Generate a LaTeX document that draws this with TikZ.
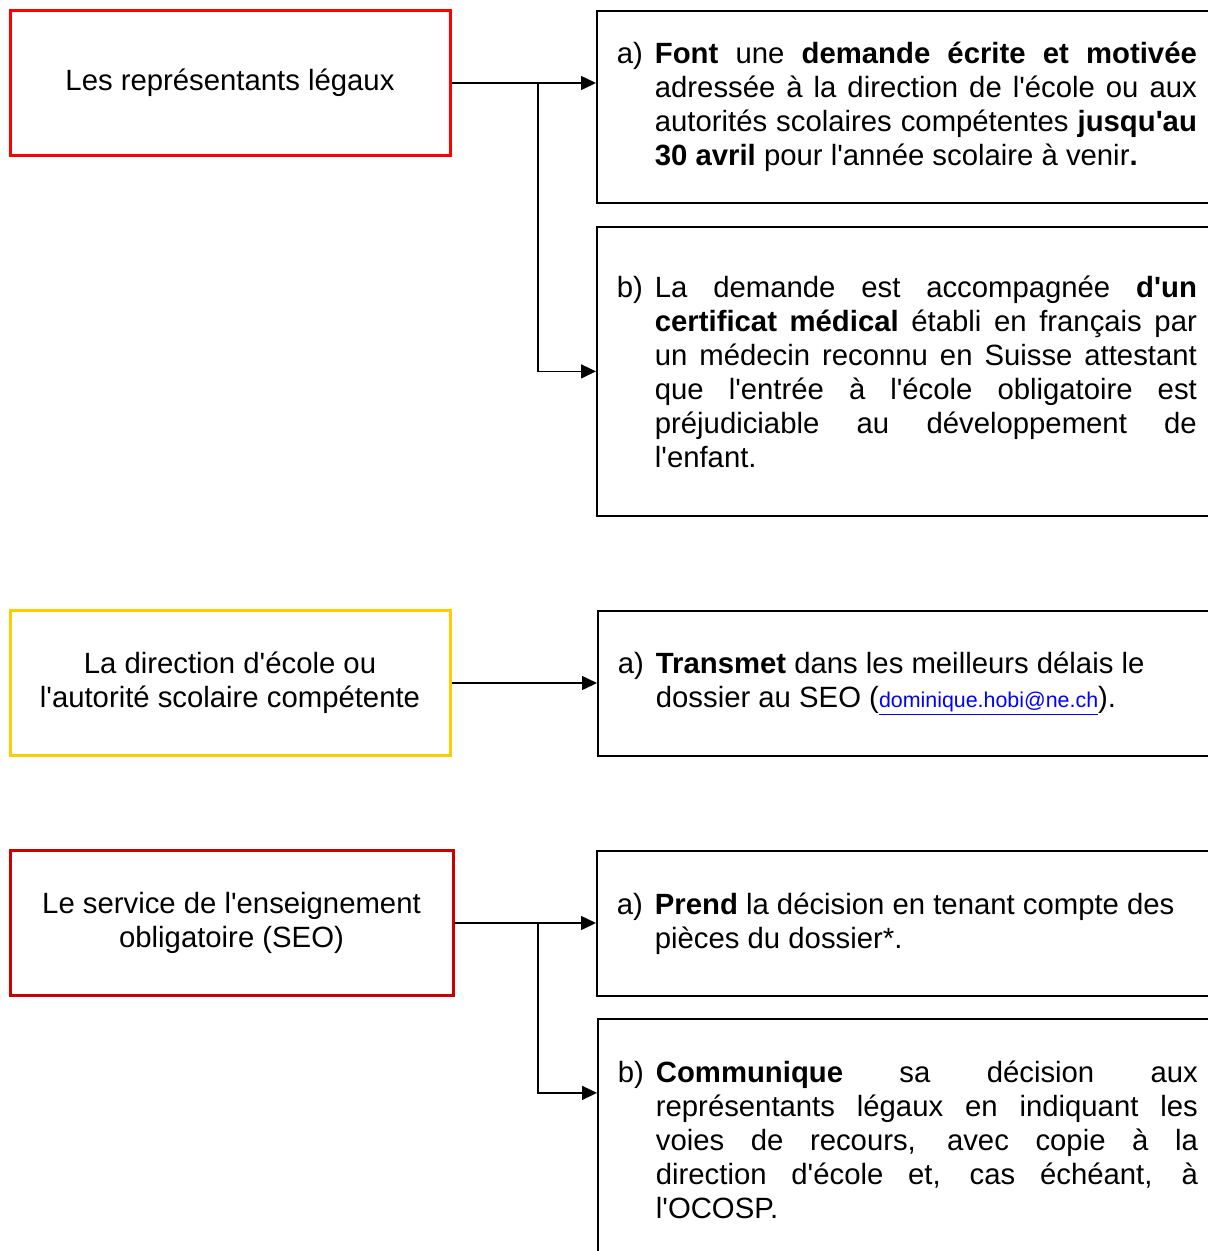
\documentclass[tikz,border=0pt]{standalone}
\usepackage{fontspec}
\setmainfont{Liberation Sans}[Ligatures=TeXOff]
\usepackage{tikz}
\usetikzlibrary{arrows.meta, positioning, calc}
\definecolor{legal_red}{HTML}{FF0000}
\definecolor{school_gold}{HTML}{FFCC00}
\definecolor{seo_red}{HTML}{CC0000}
\definecolor{mail_blue}{HTML}{0000FF}
\tikzset{
  actor/.style={draw,line width=3pt,minimum width=440pt,minimum height=145pt,inner sep=0pt,align=center},
  task/.style={draw=black,line width=1.8pt,anchor=north west,inner xsep=20pt,inner ysep=0pt,text width=580pt,align=justify},
  relation/.style={line width=1.5pt,-{Triangle[length=15pt,width=14pt]}},
}
\newcommand{\point}[2]{\noindent\hangindent=38pt\hangafter=1\makebox[38pt][l]{#1}#2\par}
\newcommand{\mail}[1]{{\fontsize{21.4}{34}\selectfont\color{mail_blue}\underline{#1}}}

\begin{document}
\begin{tikzpicture}[x=1pt,y=-1pt,font=\fontsize{29.3}{34}\selectfont]
	    \useasboundingbox (0,0) rectangle (1208,1251);
	    % who does what
	    \node[actor,draw=legal_red] (rep) at (230,83) {Les représentants légaux};
	    \node[actor,draw=school_gold] (dir) at (230,683) {La direction d'école ou\\l'autorité scolaire compétente};
	    \node[actor,draw=seo_red,minimum width=443pt] (seo) at (231.5,923) {Le service de l'enseignement\\obligatoire (SEO)};
	    % tasks
	    \node[task,minimum height=192pt] (a1) at (596,10) {\point{a)}{\textbf{Font} une \textbf{demande écrite et motivée}\linebreak adressée à la direction de l'école ou aux\linebreak autorités scolaires compétentes \textbf{jusqu'au}\linebreak \textbf{30 avril} pour l'année scolaire à venir\textbf{.}}};
	    \node[task,minimum height=289pt] (b1) at (596,226) {\point{b)}{La demande est accompagnée \textbf{d'un}\linebreak \textbf{certificat médical} établi en français par\linebreak un médecin reconnu en Suisse attestant\linebreak que l'entrée à l'école obligatoire est\linebreak préjudiciable au développement de\linebreak l'enfant.}};
	    \node[task,minimum height=145pt] (a2) at (597,610) {\point{a)}{\textbf{Transmet} dans les meilleurs délais le\newline dossier au SEO (\mail{dominique.hobi@ne.ch}).}};
	    \node[task,minimum height=145pt] (a3) at (596,850) {\point{a)}{\textbf{Prend} la décision en tenant compte des\newline pièces du dossier*.}};
	    \node[task,minimum height=242pt] (b3) at (597,1018) {\point{b)}{\textbf{Communique} sa décision aux\linebreak représentants légaux en indiquant les\linebreak voies de recours, avec copie à la\linebreak direction d'école et, cas échéant, à\linebreak l'OCOSP.}};
	    % links
	    \coordinate (j1) at ($(rep.east)+(86.5,0)$);
	    \coordinate (j3) at ($(seo.east)+(83.5,0)$);
	    \draw[relation] (rep.east) -- (rep.east -| a1.west);
	    \draw[relation] (j1) |- (b1.west);
	    \draw[relation] (dir.east) -- (dir.east -| a2.west);
	    \draw[relation] (seo.east) -- (seo.east -| a3.west);
	    \draw[relation] (j3) |- ([yshift=47pt]b3.west);
	\end{tikzpicture}
\end{document}
